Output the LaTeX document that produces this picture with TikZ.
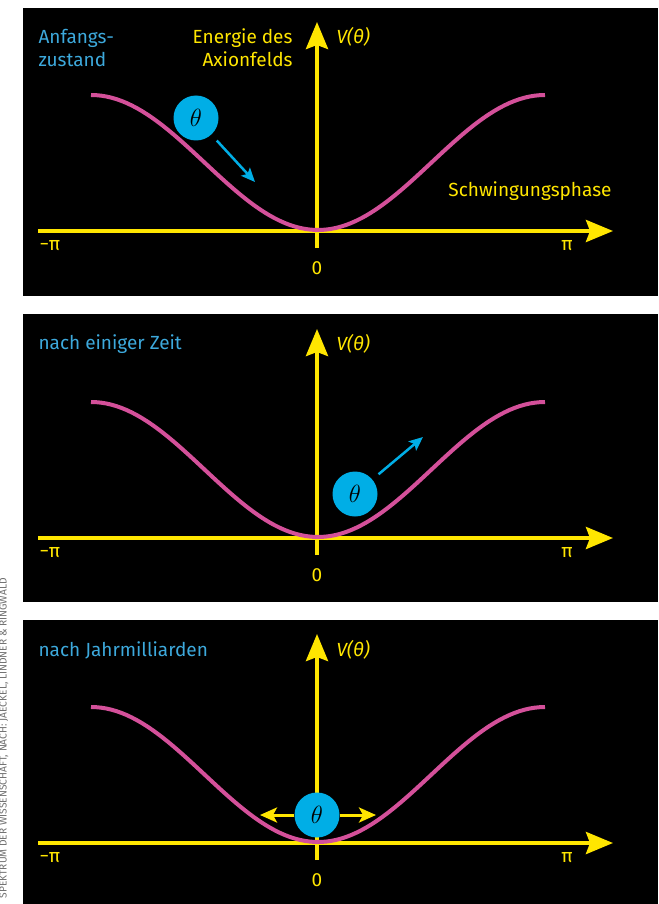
\documentclass[tikz,border=0pt]{standalone}
\usepackage{fontspec}
\setmainfont{Fira Sans}
\usetikzlibrary{arrows.meta}

\definecolor{axisyellow}{HTML}{FFE600}
\definecolor{curvepink}{HTML}{D4509A}
\definecolor{ballcyan}{HTML}{00AEE6}
\definecolor{labelblue}{HTML}{3DA9DC}
\definecolor{creditgray}{HTML}{707070}

\begin{document}
\begin{tikzpicture}[
    x=1pt, y=-1pt,
    panel/.style={fill=black},
    axis/.style={draw=axisyellow, line width=4pt, -{Stealth[length=27pt,width=22pt,inset=4pt]}},
    curve/.style={draw=curvepink, line width=4pt},
    ball/.style={circle, fill=ballcyan, minimum size=45pt, inner sep=0pt, font=\fontsize{25}{25}\selectfont},
    push/.style={draw=ballcyan, line width=2.5pt, shorten <=8pt, -{Stealth[length=14pt,width=12pt,inset=3pt]}},
    swing/.style={draw=axisyellow, line width=3pt, -{Stealth[length=17pt,width=15pt,inset=4pt]}},
    ylabel/.style={text=axisyellow, font=\fontsize{19}{23}\selectfont},
    state/.style={text=labelblue, font=\fontsize{19}{23}\selectfont, anchor=west, align=left}
]
\useasboundingbox (0,0) rectangle (658,904);

% Quelle
\node[text=creditgray, font=\fontsize{10.2}{11}\selectfont, rotate=90, anchor=east, inner sep=0pt] (credit) at (4,578) {SPEKTRUM DER WISSENSCHAFT, NACH: JAECKEL, LINDNER \& RINGWALD};

% Feld 1: Anfangszustand
\fill[panel] (23,8) rectangle (658,296);
\coordinate (xl1) at (38,231);
\coordinate (xr1) at (613,231);
\coordinate (yb1) at (317,248);
\coordinate (yt1) at (317,22);
\draw[axis] (xl1) -- (xr1);
\draw[axis] (yb1) -- (yt1);
\draw[curve] plot[domain=-180:180, samples=90] ({318+\x/180*227},{230-67.5*(1-cos(\x))});
\node[state] (state1) at (35,48) {Anfangs-\\zustand};
\node[ylabel, anchor=east, align=right] (energy) at (296,48) {Energie des\\Axionfelds};
\node[ylabel, anchor=west] (pot1) at (333,37) {\textit{V(θ)}};
\node[ylabel, anchor=east] (phase) at (615,191) {Schwingungsphase};
\node[ylabel] (mpi1) at (50,246) {−π};
\node[ylabel] (pi1) at (567,246) {π};
\node[ylabel] (zero1) at (317,268) {0};
\node[ball] (ball1) at (196,118) {$\theta$};
\coordinate (push1) at (255,182);
\draw[push] (ball1) -- (push1);

% Feld 2: nach einiger Zeit
\fill[panel] (23,314) rectangle (658,602);
\coordinate (xl2) at (38,538);
\coordinate (xr2) at (613,538);
\coordinate (yb2) at (317,555);
\coordinate (yt2) at (317,329);
\draw[axis] (xl2) -- (xr2);
\draw[axis] (yb2) -- (yt2);
\draw[curve] plot[domain=-180:180, samples=90] ({318+\x/180*227},{537-67.5*(1-cos(\x))});
\node[state] (state2) at (35,344) {nach einiger Zeit};
\node[ylabel, anchor=west] (pot2) at (333,344) {\textit{V(θ)}};
\node[ylabel] (mpi2) at (50,553) {−π};
\node[ylabel] (pi2) at (567,553) {π};
\node[ylabel] (zero2) at (317,575) {0};
\node[ball] (ball2) at (355,494) {$\theta$};
\coordinate (push2) at (423,437);
\draw[push] (ball2) -- (push2);

% Feld 3: nach Jahrmilliarden
\fill[panel] (23,620) rectangle (658,904);
\coordinate (xl3) at (38,843);
\coordinate (xr3) at (613,843);
\coordinate (yb3) at (317,860);
\coordinate (yt3) at (317,634);
\draw[axis] (xl3) -- (xr3);
\draw[axis] (yb3) -- (yt3);
\draw[curve] plot[domain=-180:180, samples=90] ({318+\x/180*227},{842-67.5*(1-cos(\x))});
\node[state] (state3) at (35,650) {nach Jahrmilliarden};
\node[ylabel, anchor=west] (pot3) at (333,650) {\textit{V(θ)}};
\node[ylabel] (mpi3) at (50,858) {−π};
\node[ylabel] (pi3) at (567,858) {π};
\node[ylabel] (zero3) at (317,880) {0};
\node[ball] (ball3) at (317,815) {$\theta$};
\coordinate (left3) at (260,815);
\coordinate (right3) at (376,815);
\draw[swing] (ball3) -- (left3);
\draw[swing] (ball3) -- (right3);

\end{tikzpicture}
\end{document}
